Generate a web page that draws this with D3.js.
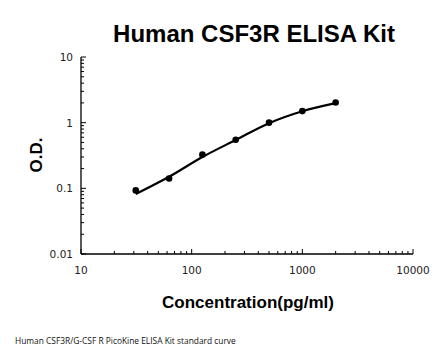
<!DOCTYPE html>
<html><head><meta charset="utf-8">
<script src="https://cdn.jsdelivr.net/npm/d3@7"></script>
<style>body{margin:0;background:#fff}svg{display:block}</style>
</head><body>
<script>
const concentrations = [31.25, 62.5, 125, 250, 500, 1000, 2000];
const odValues = [0.093, 0.141, 0.326, 0.55, 1.0, 1.5, 2.03];
const fitValues = [0.082, 0.150, 0.300, 0.545, 0.98, 1.49, 1.98];
const xTicks = [10, 100, 1000, 10000];
const yTicks = [0.01, 0.1, 1, 10];
const yTickLabels = ["0.01", "0.1", "1", "10"];

const W = 446, H = 356;
const svg = d3.select("body").append("svg").attr("width", W).attr("height", H);
const x = d3.scaleLog().domain([10, 10000]).range([81, 413]);
const y = d3.scaleLog().domain([0.01, 10]).range([254, 57]);

const minorX = [];
for (let d = 10; d < 10000; d *= 10) for (let k = 2; k <= 9; k++) minorX.push(d * k);
const minorY = [];
for (let d = 0.01; d < 9; d *= 10) for (let k = 2; k <= 9; k++) minorY.push(d * k);

// x axis
const gx = svg.append("g").attr("transform", "translate(0,254)");
gx.append("line").attr("x1", 81).attr("x2", 413).attr("stroke", "#000").attr("stroke-width", 1.3);
gx.selectAll(".mx").data(minorX).enter().append("line")
  .attr("x1", d => x(d)).attr("x2", d => x(d)).attr("y1", 0).attr("y2", -3).attr("stroke", "#000");
gx.selectAll(".Mx").data(xTicks).enter().append("line")
  .attr("x1", d => x(d)).attr("x2", d => x(d)).attr("y1", 0).attr("y2", -5).attr("stroke", "#000");
gx.selectAll(".lx").data(xTicks).enter().append("text")
  .attr("x", d => x(d)).attr("y", 20).attr("text-anchor", "middle")
  .attr("font-family", "DejaVu Sans, Verdana, sans-serif").attr("font-size", 10.5).attr("fill", "#222")
  .text(d => d);

// y axis
const gy = svg.append("g").attr("transform", "translate(81,0)");
gy.append("line").attr("y1", 57).attr("y2", 254).attr("stroke", "#000").attr("stroke-width", 1.3);
gy.selectAll(".my").data(minorY).enter().append("line")
  .attr("y1", d => y(d)).attr("y2", d => y(d)).attr("x1", 0).attr("x2", 3).attr("stroke", "#000");
gy.selectAll(".My").data(yTicks).enter().append("line")
  .attr("y1", d => y(d)).attr("y2", d => y(d)).attr("x1", 0).attr("x2", 5).attr("stroke", "#000");
gy.selectAll(".ly").data(yTicks).enter().append("text")
  .attr("x", -8).attr("y", d => y(d) + 4).attr("text-anchor", "end")
  .attr("font-family", "DejaVu Sans, Verdana, sans-serif").attr("font-size", 10.5).attr("fill", "#222")
  .text((d, i) => yTickLabels[i]);

// fit curve
const line = d3.line().x((d, i) => x(concentrations[i])).y(d => y(d)).curve(d3.curveMonotoneX);
svg.append("path").datum(fitValues).attr("d", line).attr("fill", "none")
  .attr("stroke", "#000").attr("stroke-width", 2.2);

// points
svg.selectAll(".pt").data(odValues).enter().append("circle")
  .attr("cx", (d, i) => x(concentrations[i])).attr("cy", d => y(d)).attr("r", 3.3).attr("fill", "#000");

// titles
svg.append("text").attr("x", 254).attr("y", 42).attr("text-anchor", "middle")
  .attr("font-family", "Liberation Sans, Arial, sans-serif").attr("font-weight", "bold")
  .attr("font-size", 24).text("Human CSF3R ELISA Kit");
svg.append("text").attr("x", 248).attr("y", 308).attr("text-anchor", "middle")
  .attr("font-family", "Liberation Sans, Arial, sans-serif").attr("font-weight", "bold")
  .attr("font-size", 17).text("Concentration(pg/ml)");
svg.append("text").attr("transform", "translate(42,155) rotate(-90)").attr("text-anchor", "middle")
  .attr("font-family", "Liberation Sans, Arial, sans-serif").attr("font-weight", "bold")
  .attr("font-size", 17).text("O.D.");
svg.append("text").attr("x", 15).attr("y", 344)
  .attr("font-family", "Open Sans, sans-serif").attr("font-size", 8.4).attr("fill", "#111")
  .text("Human CSF3R/G-CSF R PicoKine ELISA Kit standard curve");
</script>
</body></html>
